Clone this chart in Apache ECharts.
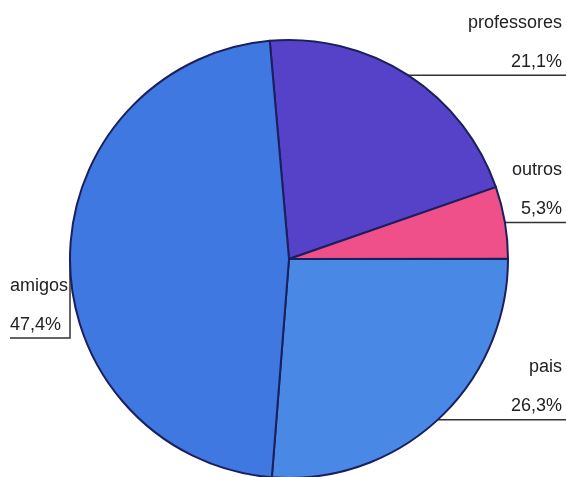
<!DOCTYPE html>
<html>
<head>
<meta charset="utf-8">
<script src="https://cdn.jsdelivr.net/npm/echarts@6/dist/echarts.min.js"></script>
<style>html,body{margin:0;padding:0;background:#fff}#c{width:566px;height:477px}</style>
</head>
<body>
<div id="c"></div>
<script>
const categories = ['professores', 'outros', 'pais', 'amigos'];
const percentages = [21.1, 5.3, 26.3, 47.4];
const sliceColors = ['#5642c9', '#f0508a', '#4a88e6', '#3f78e0'];

const chart = echarts.init(document.getElementById('c'), null, {renderer: 'canvas'});
const W = 566;
chart.setOption({
  backgroundColor: '#ffffff',
  animation: false,
  series: [{
    type: 'pie',
    center: [289, 259],
    radius: 219,
    startAngle: 95.04,
    clockwise: true,
    data: categories.map((c, i) => ({name: c, value: percentages[i], itemStyle: {color: sliceColors[i]}})),
    itemStyle: {borderColor: '#1b1f5c', borderWidth: 2},
    emphasis: {disabled: true},
    label: {
      show: true,
      position: 'outside',
      overflow: 'none',
      width: 200,
      fontFamily: 'Liberation Sans, Arial, sans-serif',
      fontSize: 18,
      color: '#222222',
      lineHeight: 39,
      formatter: p => p.name + '\n' + p.value.toFixed(1).replace('.', ',') + '%'
    },
    labelLine: {show: true, length: 10, length2: 10, lineStyle: {color: '#333333', width: 1.5}},
    labelLayout: function (params) {
      const pts = params.labelLinePoints;
      if (!pts) return {};
      const p0 = pts[0];
      if (p0[0] >= 289) {
        return {
          x: W - 4, y: p0[1] + 6, align: 'right', verticalAlign: 'bottom',
          labelLinePoints: [[p0[0], p0[1]], [p0[0] + 1, p0[1]], [W, p0[1]]]
        };
      } else {
        const ly = p0[1] + 78;
        return {
          x: 10, y: ly + 6, align: 'left', verticalAlign: 'bottom',
          labelLinePoints: [[p0[0], p0[1]], [p0[0], ly], [10, ly]]
        };
      }
    }
  }]
});
</script>
</body>
</html>
